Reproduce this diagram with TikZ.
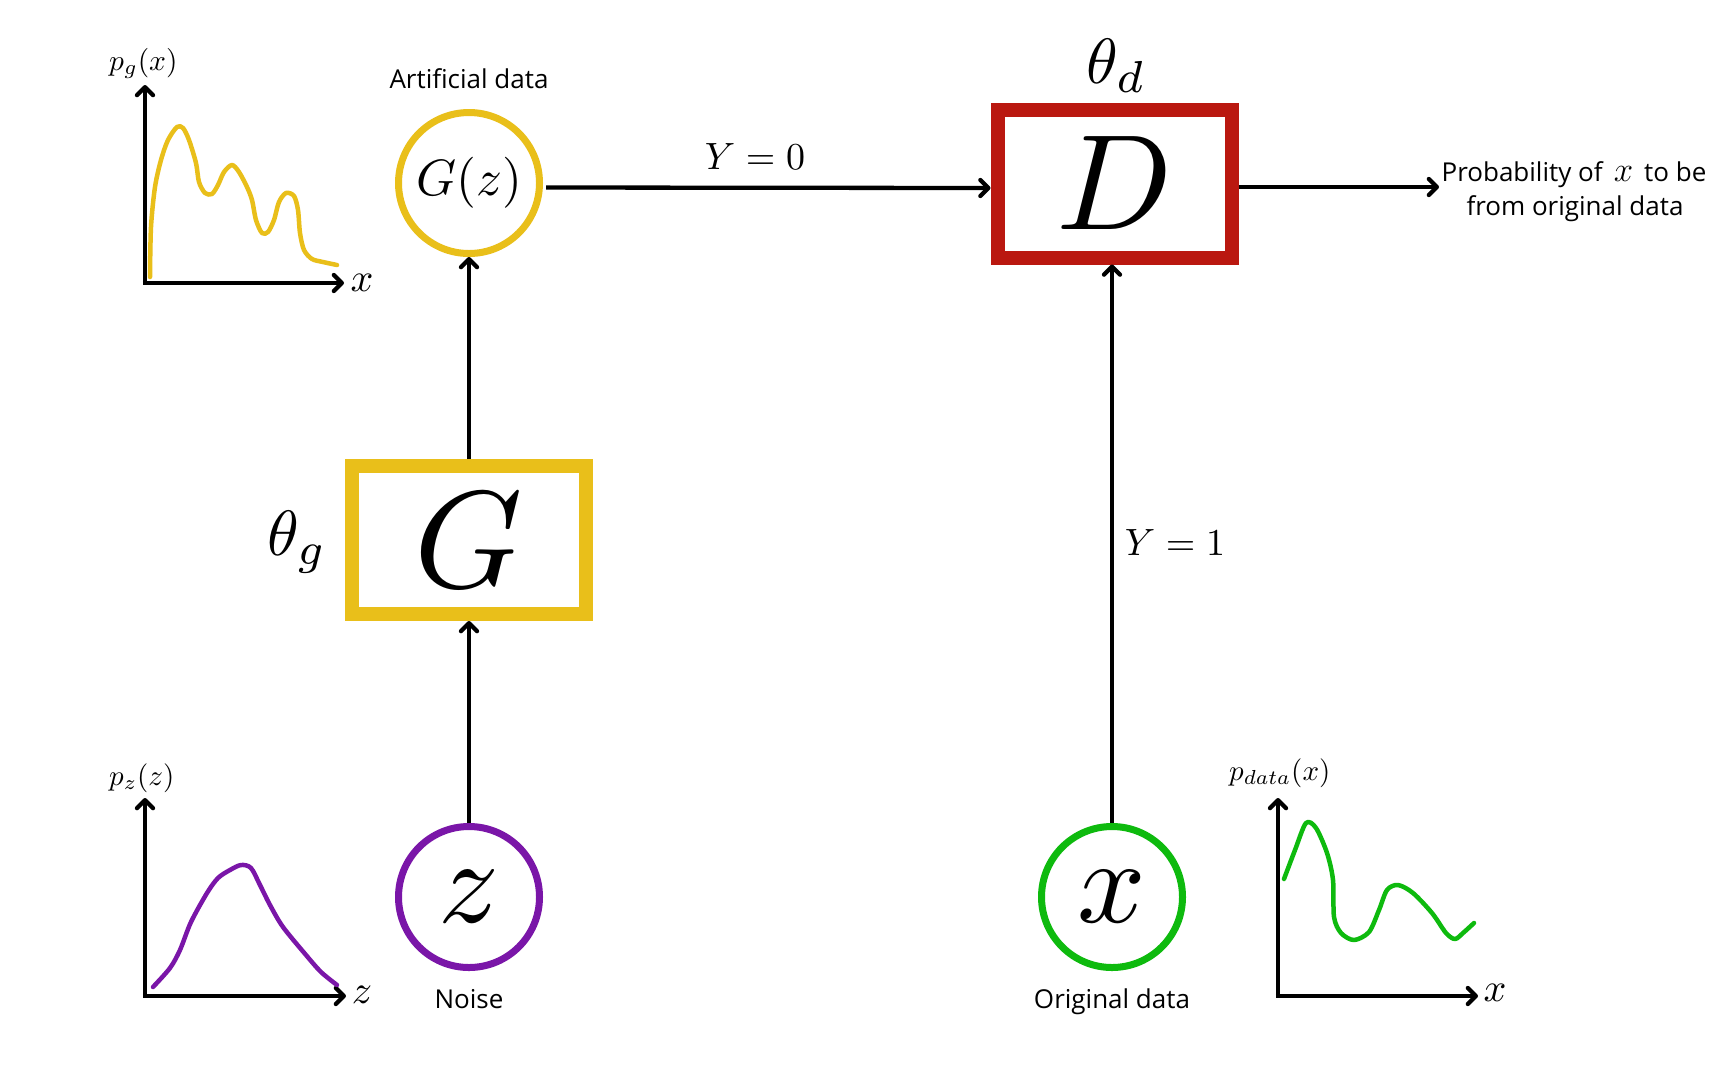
\documentclass[tikz,border=0pt]{standalone}
\usepackage{graphicx}
\usepackage{fontspec}
\newfontfamily\osans{Open Sans}
\usetikzlibrary{arrows.meta}
\definecolor{cyel}{RGB}{233,191,26}
\definecolor{cred}{RGB}{186,24,16}
\definecolor{cpur}{RGB}{122,22,168}
\definecolor{cgrn}{RGB}{14,186,14}
\newcommand\fsz[1]{\fontsize{#1}{#1}\selectfont}
\newcommand\mth[2]{\scalebox{#1}{$#2$}}
\tikzset{
  arr/.style={-{Straight Barb[length=8pt,width=16pt,round]}, line width=4.3pt, black},
  axarr/.style={-{Straight Barb[length=8pt,width=16pt,round]}, line width=4.3pt, black},
  ring/.style={circle, line width=7pt, minimum size=141pt, inner sep=0pt},
  blk/.style={rectangle, line width=14pt, minimum width=234pt, minimum height=148pt, inner sep=0pt},
  lbl/.style={inner sep=0pt, anchor=base, font=\osans\fsz{26}},
  curve/.style={line width=4.5pt, line cap=round, line join=round},
}
\begin{document}
\begin{tikzpicture}[x=1pt,y=-1pt]
\useasboundingbox (0,0) rectangle (1736,1080);
\fill[white] (0,0) rectangle (1736,1080);

% main nodes
\node[ring, draw=cyel] (Gz) at (469,183) {\mth{5.1}{G(z)}};
\node[blk, draw=cyel] (G) at (469,540) {\mth{13.8}{G}};
\node[ring, draw=cpur] (zc) at (469,897) {\mth{12}{z}};
\node[blk, draw=cred] (D) at (1114.5,183.5) {\mth{13.6}{D}};
\node[ring, draw=cgrn] (xc) at (1112,897) {\mth{12}{x}};

% labels
\node[lbl] (lart) at (469,88) {Artificial data};
\node[lbl] (lnoise) at (469,1008) {Noise};
\node[lbl] (lorig) at (1112,1008) {Original data};
\node[lbl] (prob1) at (1574,181) {Probability of \,\scalebox{1.4}{$x$}\, to be};
\node[lbl] (prob2) at (1575,215) {from original data};
\node[inner sep=0pt, anchor=base west] (thg) at (267,555) {\mth{6.4}{\theta_g}};
\node[inner sep=0pt, anchor=base west] (thd) at (1086,83) {\mth{6.4}{\theta_d}};
\node[inner sep=0pt] (y0) at (755,157) {\mth{3.8}{Y=0}};
\node[inner sep=0pt] (y1) at (1175,543) {\mth{3.8}{Y=1}};

% connectors
\coordinate (pout) at (1439,187);
\draw[arr, shorten <=3pt] ([yshift=-4.5pt]Gz.east) -- ([yshift=-4.5pt]D.west);
\draw[arr] ([yshift=-3.5pt]D.east) -- (pout);
\draw[arr] (G.north) -- (Gz.south);
\draw[arr] (zc.north) -- (G.south);
\draw[arr] (xc.north) -- (xc.north |- D.south);

% chart p_g
\coordinate (ga) at (145,283);
\coordinate (gt) at (145,85);
\coordinate (gr) at (344,283);
\draw[axarr] (ga) -- (gt);
\draw[axarr] ([xshift=-2.15pt]ga) -- (gr);
\node[inner sep=0pt, anchor=base west] (pgl) at (109,70) {\mth{2.95}{p_g(x)}};
\node[inner sep=0pt] (pgx) at (362,283) {\mth{4}{x}};
\draw[curve, cyel] plot[smooth, tension=0.5] coordinates {
(150,277) (151,227) (155,187) (161,160) (168,140) (177,127) (183,128) (189,140)
(196,163) (199,182) (205,193) (212,194) (218,185) (224,172) (232,165) (239,172)
(247,187) (252,200) (256,220) (262,233) (268,232) (274,220) (279,202) (286,193)
(294,196) (298,210) (300,233) (304,250) (312,259) (323,262) (337,265)};

% chart p_z
\coordinate (za) at (145,996);
\coordinate (zt) at (145,798);
\coordinate (zr) at (346,996);
\draw[axarr] (za) -- (zt);
\draw[axarr] ([xshift=-2.15pt]za) -- (zr);
\node[inner sep=0pt, anchor=base west] (pzl) at (109,785) {\mth{2.9}{p_z(z)}};
\node[inner sep=0pt] (pzz) at (362,995) {\mth{4}{z}};
\draw[curve, cpur] plot[smooth, tension=0.5] coordinates {
(153,987) (170,968) (180,950) (191,922) (207,893) (218,878) (230,870) (241,865)
(251,868) (260,885) (270,905) (283,927) (306,955) (321,972) (337,985)};

% chart p_data
\coordinate (da) at (1278,996);
\coordinate (dt) at (1278,798);
\coordinate (dr) at (1478,996);
\draw[axarr] (da) -- (dt);
\draw[axarr] ([xshift=-2.15pt]da) -- (dr);
\node[inner sep=0pt, anchor=base west] (pdl) at (1229,780) {\mth{2.9}{p_{data}(x)}};
\node[inner sep=0pt] (pdx) at (1495,993) {\mth{4}{x}};
\draw[curve, cgrn] plot[smooth, tension=0.5] coordinates {
(1284,879) (1295,850) (1306,823) (1316,828) (1327,853) (1333,880) (1334,917)
(1341,933) (1354,940) (1369,932) (1379,910) (1387,890) (1398,885) (1413,893)
(1432,913) (1446,933) (1455,939) (1463,933) (1474,923)};
\end{tikzpicture}
\end{document}
